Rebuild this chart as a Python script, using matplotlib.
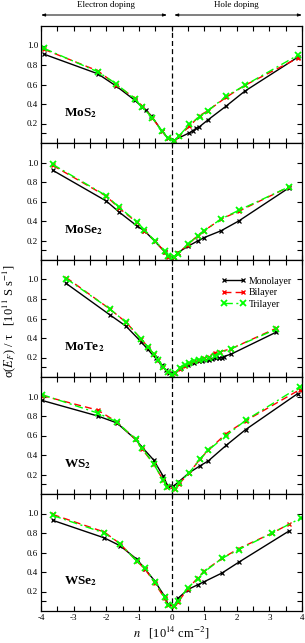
import matplotlib
matplotlib.use("Agg")
import matplotlib.pyplot as plt
from matplotlib.ticker import MultipleLocator, FixedLocator, FormatStrFormatter

# ---------------------------------------------------------------------------
# Data: sigma(E_F)/tau [1e11 S/s] vs carrier density n [1e14 cm^-2]
# ---------------------------------------------------------------------------
materials = ["MoS$_\\mathbf{2}$", "MoSe$_\\mathbf{2}$", "MoTe$_\\mathbf{2}$",
             "WS$_\\mathbf{2}$", "WSe$_\\mathbf{2}$"]
layers = ["Monolayer", "Bilayer", "Trilayer"]

# MoS2
mos2_mono_x = [-3.9, -2.26, -1.70, -1.13, -0.90, -0.78, -0.62, -0.29, -0.11,
               0.09, 0.55, 0.65, 0.75, 0.85, 1.11, 1.68, 2.24, 3.87]
mos2_mono_y = [0.91, 0.71, 0.585, 0.44, 0.37, 0.335, 0.28, 0.12, 0.05,
               0.03, 0.105, 0.125, 0.15, 0.165, 0.235, 0.38, 0.53, 0.88]
mos2_bi_x = [-3.9, -2.26, -1.70, -1.13, -0.90, -0.59, -0.29, -0.11,
             0.09, 0.22, 0.55, 0.86, 1.11, 1.68, 2.24, 3.87]
mos2_bi_y = [0.96, 0.74, 0.60, 0.46, 0.38, 0.26, 0.12, 0.05,
             0.02, 0.07, 0.17, 0.28, 0.33, 0.47, 0.59, 0.87]
mos2_tri_x = mos2_bi_x
mos2_tri_y = [0.97, 0.73, 0.61, 0.45, 0.37, 0.26, 0.12, 0.05,
              0.02, 0.07, 0.19, 0.27, 0.33, 0.48, 0.59, 0.90]

# MoSe2
mose2_mono_x = [-3.64, -2.0, -1.6, -1.06, -0.83, -0.52, -0.21, -0.11,
                0.09, 0.19, 0.5, 0.8, 1.0, 1.52, 2.06, 3.6]
mose2_mono_y = [0.92, 0.605, 0.49, 0.35, 0.30, 0.195, 0.085, 0.04,
                0.03, 0.075, 0.14, 0.195, 0.23, 0.30, 0.40, 0.74]
mose2_bi_x = mose2_mono_x
mose2_bi_y = [0.97, 0.655, 0.53, 0.385, 0.30, 0.20, 0.085, 0.03,
              0.03, 0.07, 0.155, 0.25, 0.30, 0.42, 0.50, 0.75]
mose2_tri_x = mose2_mono_x
mose2_tri_y = [0.98, 0.66, 0.54, 0.39, 0.31, 0.20, 0.09, 0.04,
               0.03, 0.065, 0.16, 0.25, 0.30, 0.42, 0.51, 0.75]

# MoTe2
mote2_mono_x = [-3.23, -1.9, -1.39, -0.93, -0.73, -0.48, -0.30, -0.18, -0.08,
                0.09, 0.3, 0.5, 0.7, 0.85, 0.95, 1.05, 1.15, 1.25, 1.35,
                1.45, 1.55, 1.6, 1.83, 3.21]
mote2_mono_y = [0.96, 0.64, 0.52, 0.36, 0.285, 0.19, 0.12, 0.07, 0.04,
                0.04, 0.09, 0.12, 0.145, 0.16, 0.165, 0.17, 0.175, 0.18, 0.19,
                0.195, 0.20, 0.21, 0.235, 0.46]
mote2_bi_x = [-3.23, -1.9, -1.39, -0.93, -0.73, -0.55, -0.40, -0.25, -0.12,
              0.0, 0.1, 0.25, 0.4, 0.55, 0.7, 0.85, 1.0, 1.15, 1.32, 1.5,
              1.83, 3.21]
mote2_bi_y = [1.02, 0.70, 0.56, 0.39, 0.31, 0.24, 0.17, 0.10, 0.05,
              0.02, 0.04, 0.08, 0.11, 0.14, 0.16, 0.175, 0.19, 0.21, 0.25,
              0.26, 0.29, 0.50]
mote2_tri_x = mote2_bi_x
mote2_tri_y = [1.01, 0.70, 0.56, 0.39, 0.31, 0.24, 0.17, 0.10, 0.05,
               0.02, 0.04, 0.09, 0.12, 0.145, 0.165, 0.175, 0.18, 0.20, 0.22,
               0.25, 0.29, 0.49]

# WS2
ws2_mono_x = [-3.97, -2.26, -1.68, -1.10, -0.90, -0.55, -0.25, -0.11,
              0.06, 0.22, 0.55, 0.88, 1.13, 1.68, 2.27, 3.87]
ws2_mono_y = [0.96, 0.80, 0.73, 0.56, 0.48, 0.35, 0.18, 0.08,
              0.08, 0.125, 0.22, 0.29, 0.34, 0.50, 0.66, 1.03]
ws2_bi_x = [-3.97, -2.26, -1.68, -1.10, -0.90, -0.55, -0.25, -0.14,
            0.10, 0.22, 0.55, 0.88, 1.13, 1.68, 2.27, 3.93]
ws2_bi_y = [1.01, 0.86, 0.74, 0.56, 0.46, 0.31, 0.14, 0.075,
            0.05, 0.10, 0.22, 0.36, 0.45, 0.62, 0.75, 1.07]
ws2_tri_x = ws2_bi_x
ws2_tri_y = [1.02, 0.83, 0.74, 0.56, 0.47, 0.31, 0.14, 0.07,
             0.05, 0.11, 0.22, 0.36, 0.45, 0.60, 0.755, 1.10]

# WSe2
wse2_mono_x = [-3.64, -2.06, -1.58, -1.06, -0.81, -0.52, -0.21, -0.11,
               0.09, 0.2, 0.5, 0.81, 1.0, 1.55, 2.06, 3.6]
wse2_mono_y = [0.93, 0.75, 0.67, 0.53, 0.43, 0.31, 0.15, 0.07,
               0.05, 0.13, 0.22, 0.27, 0.30, 0.39, 0.50, 0.82]
wse2_bi_x = [-3.64, -2.06, -1.58, -1.06, -0.81, -0.52, -0.21, -0.11,
             0.09, 0.2, 0.5, 0.81, 1.0, 1.55, 2.06, 3.09, 3.6]
wse2_bi_y = [0.99, 0.81, 0.69, 0.51, 0.43, 0.29, 0.13, 0.06,
             0.05, 0.09, 0.23, 0.34, 0.41, 0.54, 0.64, 0.80, 0.89]
wse2_tri_x = [-3.64, -2.06, -1.58, -1.06, -0.81, -0.52, -0.21, -0.11,
              0.09, 0.2, 0.5, 0.81, 1.0, 1.55, 2.06, 3.09, 3.98]
wse2_tri_y = [0.98, 0.80, 0.69, 0.51, 0.44, 0.30, 0.14, 0.06,
              0.05, 0.10, 0.24, 0.33, 0.40, 0.54, 0.63, 0.80, 0.955]

panels = [
    [(mos2_mono_x, mos2_mono_y), (mos2_bi_x, mos2_bi_y), (mos2_tri_x, mos2_tri_y)],
    [(mose2_mono_x, mose2_mono_y), (mose2_bi_x, mose2_bi_y), (mose2_tri_x, mose2_tri_y)],
    [(mote2_mono_x, mote2_mono_y), (mote2_bi_x, mote2_bi_y), (mote2_tri_x, mote2_tri_y)],
    [(ws2_mono_x, ws2_mono_y), (ws2_bi_x, ws2_bi_y), (ws2_tri_x, ws2_tri_y)],
    [(wse2_mono_x, wse2_mono_y), (wse2_bi_x, wse2_bi_y), (wse2_tri_x, wse2_tri_y)],
]

# line styles per layer count
STYLES = [
    dict(color="black", ls="-", lw=1.0, marker="x", ms=3.5, mew=0.9),
    dict(color="#ff0000", ls=(0, (5, 3)), lw=1.0, marker="x", ms=3.5, mew=1.0),
    dict(color="#00ff00", ls=(0, (6, 2.5, 1.5, 2.5)), lw=1.0, marker="x", ms=4, mew=1.3),
]

plt.rcParams.update({
    "font.family": "serif",
    "font.serif": ["Liberation Serif", "DejaVu Serif"],
    "mathtext.fontset": "stix",
    "axes.unicode_minus": False,
    "font.size": 6.5,
    "axes.linewidth": 0.9,
    "xtick.direction": "in",
    "ytick.direction": "in",
    "xtick.top": True,
    "ytick.right": True,
    "xtick.major.size": 3.5,
    "xtick.minor.size": 3.5,
    "ytick.major.size": 3.5,
    "ytick.minor.size": 3.5,
})

W, H = 305, 643
fig = plt.figure(figsize=(W / 100, H / 100), dpi=100)

left, right = 41 / W, 302 / W
panel_h = 117 / H
top = 1 - 26 / H

axes = []
for i in range(5):
    ax = fig.add_axes([left, top - (i + 1) * panel_h, right - left, panel_h])
    axes.append(ax)

for i, ax in enumerate(axes):
    for (x, y), st, lab in zip(panels[i], STYLES, layers):
        ax.plot(x, y, label=lab, **st)
    ax.axvline(0, color="black", ls=(0, (4, 2.5)), lw=0.9, zorder=0)
    ax.set_xlim(-4, 4)
    ax.set_ylim(0, 1.2)
    ax.xaxis.set_major_locator(MultipleLocator(1))
    ax.xaxis.set_minor_locator(MultipleLocator(0.5))
    ax.xaxis.set_major_formatter(FormatStrFormatter("%d"))
    ax.yaxis.set_major_locator(FixedLocator([0.2, 0.4, 0.6, 0.8, 1.0]))
    ax.yaxis.set_minor_locator(FixedLocator([0.1]))
    ax.yaxis.set_major_formatter(FormatStrFormatter("%.1f"))
    ax.tick_params(which="both", width=0.8, labelsize=6.5, pad=2)
    if i < 4:
        ax.tick_params(labelbottom=False)
    ax.text(-3.3, 0.31, materials[i], fontsize=9.5, fontweight="bold",
            ha="left", va="center")

axes[2].legend(loc="upper right", bbox_to_anchor=(1.0, 0.94), frameon=False,
               fontsize=7, numpoints=2, handlelength=2.6, handletextpad=0.3,
               labelspacing=0.25, borderaxespad=0.6)

axes[4].set_xlabel("$n$   [10$^{14}$ cm$^{-2}$]", fontsize=9, labelpad=2)

fig.text(0.03, 0.5, "σ($E_F$) / τ   [10$^{11}$ S s$^{-1}$]", rotation=90,
         ha="center", va="center", fontsize=9)

# doping direction arrows above the top panel
top_ax = axes[0]
arrow = dict(arrowstyle="<|-|>,head_length=0.35,head_width=0.12", color="black", lw=0.7,
             shrinkA=0, shrinkB=0)
top_ax.annotate("", xy=(0.0, 1.094), xytext=(0.483, 1.094), xycoords="axes fraction",
                textcoords="axes fraction", arrowprops=arrow, annotation_clip=False)
top_ax.annotate("", xy=(0.51, 1.094), xytext=(1.0, 1.094), xycoords="axes fraction",
                textcoords="axes fraction", arrowprops=arrow, annotation_clip=False)
top_ax.text(0.25, 1.18, "Electron doping", transform=top_ax.transAxes,
            ha="center", va="center", fontsize=6.5)
top_ax.text(0.75, 1.18, "Hole doping", transform=top_ax.transAxes,
            ha="center", va="center", fontsize=6.5)

fig.savefig("out.png", dpi=100)
